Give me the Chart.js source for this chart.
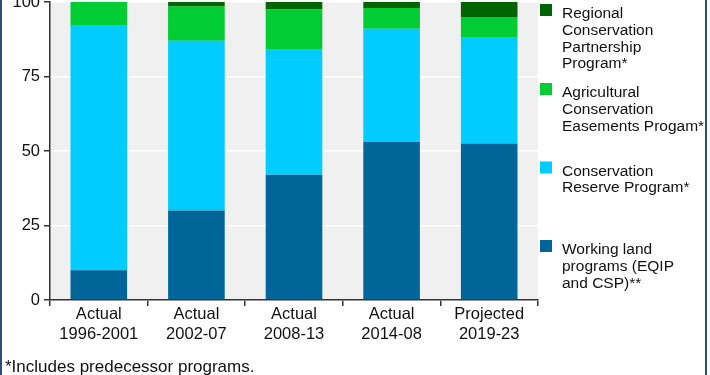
<!DOCTYPE html>
<html>
<head>
<meta charset="utf-8">
<script src="https://cdn.jsdelivr.net/npm/chart.js@4.4.1/dist/chart.umd.min.js"></script>
<style>
  html, body { margin: 0; padding: 0; background: #fff; }
  #wrap {
    position: relative;
    width: 710px;
    height: 375px;
    box-sizing: border-box;
  }
  #wrap:before, #wrap:after {
    content: "";
    position: absolute;
    top: 0;
    bottom: 0;
    width: 2px;
    background: #2a4d7a;
  }
  #wrap:before { left: 0; }
  #wrap:after { left: 705px; }
</style>
</head>
<body>
<div id="wrap">
  <canvas id="programs-chart" width="710" height="375"></canvas>
</div>
<script>
const periods = [
  ["Actual", "1996-2001"],
  ["Actual", "2002-07"],
  ["Actual", "2008-13"],
  ["Actual", "2014-08"],
  ["Projected", "2019-23"],
];

// percent of spending, bottom to top
const workingLand = [10, 30, 42, 53, 52.5];
const reserve = [82, 57, 42, 38, 35.5];
const easements = [8, 11.5, 13.5, 7, 7];
const regional = [0, 1.5, 2.5, 2, 5];

const yTicks = [0, 25, 50, 75, 100];

const seriesLabels = {
  working: ["Working land", "programs (EQIP", "and CSP)**"],
  reserve: ["Conservation", "Reserve Program*"],
  easements: ["Agricultural", "Conservation", "Easements Progam*"],
  regional: ["Regional", "Conservation", "Partnership", "Program*"],
};

const footnote = "*Includes predecessor programs.";

const FONT = "'Liberation Sans', Arial, sans-serif";

// legend blocks drawn top to bottom (y = first text line centre)
const legendRows = [
  { key: "regional", color: "#006400", y: 14 },
  { key: "easements", color: "#00cc33", y: 93 },
  { key: "reserve", color: "#00ccff", y: 171.5 },
  { key: "working", color: "#006699", y: 250 },
];

const plotBackground = {
  id: "plotBackground",
  beforeDraw(chart) {
    const { ctx, chartArea: a } = chart;
    ctx.save();
    ctx.fillStyle = "#f0f0f0";
    ctx.fillRect(a.left, a.top, a.right - a.left, a.bottom - a.top);
    ctx.restore();
  },
};

const sideLegend = {
  id: "sideLegend",
  afterDraw(chart) {
    const { ctx } = chart;
    ctx.save();
    ctx.font = "15.5px " + FONT;
    ctx.textBaseline = "middle";
    legendRows.forEach(row => {
      ctx.fillStyle = row.color;
      ctx.fillRect(540, row.y - 10, 12, 12);
      ctx.fillStyle = "#111";
      seriesLabels[row.key].forEach((line, i) => {
        ctx.fillText(line, 562, row.y + i * 16.7);
      });
    });
    ctx.font = "17px " + FONT;
    ctx.fillText(footnote, 5, 367);
    ctx.restore();
  },
};

function makeDataset(label, data, color) {
  return {
    label: label.join(" "),
    data: data,
    backgroundColor: color,
    borderWidth: 0,
    categoryPercentage: 1,
    barPercentage: 0.58,
  };
}

new Chart(document.getElementById("programs-chart"), {
  type: "bar",
  data: {
    labels: periods,
    datasets: [
      makeDataset(seriesLabels.working, workingLand, "#006699"),
      makeDataset(seriesLabels.reserve, reserve, "#00ccff"),
      makeDataset(seriesLabels.easements, easements, "#00cc33"),
      makeDataset(seriesLabels.regional, regional, "#006400"),
    ],
  },
  options: {
    responsive: false,
    animation: false,
    layout: { padding: { top: 2, right: 172, left: 0, bottom: 0 } },
    plugins: {
      legend: { display: false },
      tooltip: { enabled: false },
    },
    scales: {
      x: {
        stacked: true,
        afterFit: scale => {
          scale.height = 75;
          scale.paddingLeft = 0;
          scale.paddingRight = 0;
        },
        border: { display: true, color: "#333", width: 1.5 },
        grid: {
          offset: true,
          drawOnChartArea: false,
          tickLength: 6,
          tickColor: "#333",
          lineWidth: 1.5,
        },
        ticks: {
          color: "#111",
          font: { family: FONT, size: 16.5 },
          padding: -1,
          maxRotation: 0,
        },
      },
      y: {
        stacked: true,
        min: 0,
        max: 100,
        afterFit: scale => {
          scale.width = 50;
          scale.paddingTop = 0;
          scale.paddingBottom = 0;
        },
        afterBuildTicks: scale => {
          scale.ticks = yTicks.map(v => ({ value: v }));
        },
        border: { display: true, color: "#333", width: 1.5 },
        grid: {
          color: "#ffffff",
          lineWidth: 1.5,
          tickLength: 6,
          tickColor: "#333",
        },
        ticks: {
          color: "#111",
          font: { family: FONT, size: 16.5 },
          padding: 4,
        },
      },
    },
  },
  plugins: [plotBackground, sideLegend],
});
</script>
</body>
</html>
